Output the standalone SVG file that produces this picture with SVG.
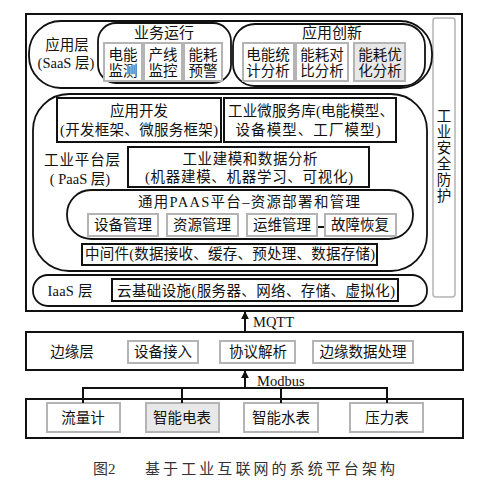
<svg xmlns="http://www.w3.org/2000/svg" width="484" height="482" viewBox="0 0 484 482">
<defs>
<style>
text{font-family:"Liberation Serif","Noto Sans CJK SC",serif;font-size:14.5px;fill:#111;text-anchor:middle}
.frame{fill:#fff;stroke:#111;stroke-width:2}
.layer{fill:none;stroke:#111;stroke-width:1.8}
.blk{fill:#fff;stroke:#111;stroke-width:2}
.gry{fill:#fff;stroke:#b4b4b4;stroke-width:2}
.gryf{fill:#e8e8e8;stroke:#b4b4b4;stroke-width:2}
.ln{fill:none;stroke:#111;stroke-width:2}
.lbl{text-anchor:start}
</style>
<marker id="ah" viewBox="0 0 10 10" refX="9" refY="5" markerWidth="4" markerHeight="4" orient="auto"><path d="M0,0L10,5L0,10z" fill="#111"/></marker>
</defs>
<rect width="484" height="482" fill="#fff"/>

<g id="cloud">
<rect class="frame" x="26" y="14" width="436" height="297"/>
</g>

<g id="security">
<rect x="433" y="18" width="22" height="279" rx="3" fill="#fff" stroke="#b4b4b4" stroke-width="1.5"/>
<text x="444" y="121">工</text><text x="444" y="137">业</text><text x="444" y="153">安</text><text x="444" y="169">全</text><text x="444" y="185">防</text><text x="444" y="201">护</text>
</g>

<g id="saas">
<rect class="layer" x="29" y="21" width="403" height="67" rx="32"/>
<text x="67" y="50">应用层</text>
<text x="66" y="68">(SaaS 层)</text>
</g>

<g id="biz">
<rect class="layer" x="98" y="23" width="133" height="60" rx="18"/>
<text x="164" y="38" style="font-size:15px">业务运行</text>
<rect class="gry" x="104" y="43" width="38" height="38"/><text x="123" y="60">电能</text><text x="123" y="76">监测</text>
<rect class="gry" x="144" y="43" width="38" height="38"/><text x="163" y="60">产线</text><text x="163" y="76">监控</text>
<rect class="gry" x="184" y="43" width="38" height="38"/><text x="203" y="60">能耗</text><text x="203" y="76">预警</text>
</g>

<g id="innov">
<rect class="layer" x="233" y="24" width="192" height="62" rx="22"/>
<text x="332" y="38" style="font-size:15px">应用创新</text>
<rect class="gry" x="243" y="43" width="51" height="38"/><text x="268" y="60">电能统</text><text x="268" y="76">计分析</text>
<rect class="gry" x="296" y="43" width="52" height="38"/><text x="322" y="60">能耗对</text><text x="322" y="76">比分析</text>
<rect class="gryf" x="354" y="43" width="51" height="38"/><text x="380" y="60">能耗优</text><text x="380" y="76">化分析</text>
</g>

<g id="paas">
<rect class="layer" x="33" y="94" width="394" height="177" rx="36"/>
<text x="82" y="165" textLength="76">工业平台层</text>
<text x="80" y="184">( PaaS 层)</text>
</g>

<g id="appdev">
<rect class="blk" x="57" y="98" width="164" height="44"/>
<text x="139" y="116">应用开发</text>
<text x="139" y="135" textLength="158">(开发框架、微服务框架)</text>
</g>

<g id="micro">
<rect class="blk" x="224" y="98" width="172" height="44"/>
<text x="311" y="116" textLength="166">工业微服务库(电能模型、</text>
<text x="308" y="135" textLength="145">设备模型、工厂模型)</text>
</g>

<g id="model">
<rect class="blk" x="128" y="147" width="241" height="40"/>
<text x="250" y="164" textLength="135">工业建模和数据分析</text>
<text x="249" y="182" textLength="208">(机器建模、机器学习、可视化)</text>
</g>

<g id="generic">
<rect class="layer" x="67" y="190" width="346" height="49" rx="24"/>
<text x="249" y="207" textLength="222">通用PAAS平台–资源部署和管理</text>
<rect class="gry" x="88" y="214" width="70" height="22"/><text x="123" y="230">设备管理</text>
<rect class="gry" x="167" y="214" width="71" height="22"/><text x="202" y="230">资源管理</text>
<rect class="gry" x="247" y="214" width="70" height="22"/><text x="282" y="230">运维管理</text>
<rect class="gry" x="325" y="214" width="71" height="22"/><text x="360" y="230">故障恢复</text>
<line class="ln" x1="318" y1="227" x2="324" y2="227"/>
</g>

<g id="middleware">
<rect class="blk" x="82" y="244" width="295" height="21"/>
<text x="230" y="259" textLength="290">中间件(数据接收、缓存、预处理、数据存储)</text>
</g>

<g id="iaas">
<rect class="layer" x="33" y="275" width="394" height="31" rx="15"/>
<text x="70" y="296" textLength="45">IaaS 层</text>
<rect class="blk" x="112" y="279" width="286" height="22"/>
<text x="256" y="296" textLength="278">云基础设施(服务器、网络、存储、虚拟化)</text>
</g>

<g id="edge">
<rect class="frame" x="26" y="332" width="437" height="38"/>
<text x="72" y="357">边缘层</text>
<rect class="gry" x="128" y="341" width="70" height="22"/><text x="163" y="357">设备接入</text>
<rect class="gry" x="220" y="341" width="75" height="22"/><text x="258" y="357">协议解析</text>
<rect class="gry" x="313" y="341" width="100" height="22"/><text x="363" y="357">边缘数据处理</text>
</g>

<g id="devices">
<rect class="frame" x="26" y="399" width="437" height="39"/>
<rect class="gry" x="47" y="403" width="73" height="29"/><text x="83" y="423">流量计</text>
<rect class="gryf" x="146" y="403" width="73" height="29"/><text x="182" y="423">智能电表</text>
<rect class="gry" x="244" y="403" width="74" height="29"/><text x="281" y="423">智能水表</text>
<rect class="gry" x="350" y="403" width="73" height="29"/><text x="387" y="423">压力表</text>
</g>

<g id="connectors">
<line class="ln" x1="245" y1="332" x2="245" y2="312" marker-end="url(#ah)"/>
<text class="lbl" x="253" y="327">MQTT</text>
<line class="ln" x1="245" y1="388" x2="245" y2="371" marker-end="url(#ah)"/>
<text class="lbl" x="257" y="386">Modbus</text>
<polyline class="ln" points="83,403 83,388 387,388 387,403"/>
<line class="ln" x1="182" y1="388" x2="182" y2="403"/>
<line class="ln" x1="281" y1="388" x2="281" y2="403"/>
</g>

<g id="caption">
<text class="lbl" x="93" y="474" style="font-size:15px;fill:#333">图2</text>
<text class="lbl" x="145" y="474" style="font-size:15px;fill:#333" textLength="250">基于工业互联网的系统平台架构</text>
</g>
</svg>
